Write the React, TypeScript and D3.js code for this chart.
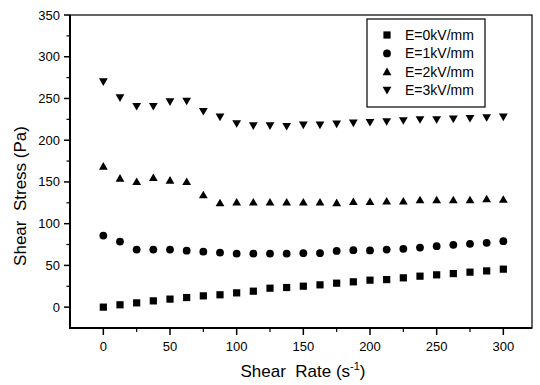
import React from "react";
import * as d3 from "d3";

const shearRate = [0, 12.5, 25, 37.5, 50, 62.5, 75, 87.5, 100, 112.5, 125, 137.5, 150, 162.5, 175, 187.5, 200, 212.5, 225, 237.5, 250, 262.5, 275, 287.5, 300];
const e0 = [0, 2.8, 5.1, 7.5, 9.6, 11.5, 13.5, 14.8, 17.1, 19.1, 22.7, 23.5, 25.1, 26.7, 28.7, 30.3, 32.3, 33, 35.1, 37.1, 38.7, 40.2, 41.9, 43.4, 45.5];
const e1 = [85.7, 78.5, 68.9, 68.9, 68.9, 67.7, 66.5, 65.3, 64.1, 64.1, 64.1, 64.1, 64.6, 64.6, 67.4, 68.2, 68, 68.9, 69.8, 71.3, 73, 74.6, 75.8, 77, 79];
const e2 = [168.8, 154.4, 150.3, 155.1, 152, 150.3, 134.4, 124.8, 125.7, 125.7, 125.7, 125.7, 125.7, 125.7, 125, 126.3, 126.3, 127, 127, 128.4, 128.4, 128.4, 128.4, 129.7, 129];
const e3 = [270, 250.9, 240.6, 240.6, 246.1, 246.9, 234.6, 227.8, 219.8, 217.4, 217.4, 216.6, 218.2, 218.2, 219.4, 220.6, 221.4, 222.2, 223.4, 224.6, 224.6, 225.4, 226.2, 227, 227.8];
const seriesNames = ["E=0kV/mm", "E=1kV/mm", "E=2kV/mm", "E=3kV/mm"];
const markerKinds = ["square", "circle", "triangle", "invtriangle"];
const xMajorTicks = [0, 50, 100, 150, 200, 250, 300];
const yMajorTicks = [0, 50, 100, 150, 200, 250, 300, 350];

const FONT = "'Liberation Sans', Arial, sans-serif";

function Marker({ kind, x, y }: { kind: string; x: number; y: number }) {
  if (kind === "square") return <rect x={x - 3.6} y={y - 3.6} width={7.2} height={7.2} fill="#000" />;
  if (kind === "circle") return <circle cx={x} cy={y} r={3.9} fill="#000" />;
  if (kind === "triangle")
    return <path d={`M${x},${y - 4.2}L${x + 4.4},${y + 3.4}L${x - 4.4},${y + 3.4}Z`} fill="#000" />;
  return <path d={`M${x},${y + 4.2}L${x + 4.4},${y - 3.4}L${x - 4.4},${y - 3.4}Z`} fill="#000" />;
}

export default function App() {
  const W = 540, H = 385;
  const left = 70, right = 532, top = 15, bottom = 328;
  const x = d3.scaleLinear().domain([-25, 321.5]).range([left, right]);
  const y = d3.scaleLinear().domain([-25, 350]).range([bottom, top]);
  const series = [e0, e1, e2, e3];
  const xMinor = d3.range(-25, 321, 25).filter((v) => !xMajorTicks.includes(v) && v > -25);
  const yMinor = d3.range(-25, 350, 25).filter((v) => !yMajorTicks.includes(v) && v > -25);

  return (
    <svg width={W} height={H} style={{ position: "absolute", left: 0, top: 0, background: "#fff" }} fontFamily={FONT}>
      <rect x={0} y={0} width={W} height={H} fill="#fff" />
      {/* frame */}
      <rect x={left} y={top} width={right - left} height={bottom - top} fill="none" stroke="#000" strokeWidth={1.2} />
      <line x1={left} y1={top} x2={left} y2={bottom + 1} stroke="#000" strokeWidth={2} />
      <line x1={left - 1} y1={bottom} x2={right} y2={bottom} stroke="#000" strokeWidth={2} />
      {/* x ticks */}
      {xMajorTicks.map((t) => (
        <g key={"xt" + t}>
          <line x1={x(t)} x2={x(t)} y1={bottom} y2={bottom + 7} stroke="#000" strokeWidth={1.5} />
          <text x={x(t)} y={bottom + 23} textAnchor="middle" fontSize={13}>{t}</text>
        </g>
      ))}
      {xMinor.map((t) => (
        <line key={"xm" + t} x1={x(t)} x2={x(t)} y1={bottom} y2={bottom + 4} stroke="#000" strokeWidth={1.2} />
      ))}
      {/* y ticks */}
      {yMajorTicks.map((t) => (
        <g key={"yt" + t}>
          <line x1={left} x2={left - 6} y1={y(t)} y2={y(t)} stroke="#000" strokeWidth={1.5} />
          <text x={left - 10} y={y(t) + 4.5} textAnchor="end" fontSize={13}>{t}</text>
        </g>
      ))}
      {yMinor.map((t) => (
        <line key={"ym" + t} x1={left} x2={left - 3.5} y1={y(t)} y2={y(t)} stroke="#000" strokeWidth={1.2} />
      ))}
      {/* axis titles */}
      <text x={303} y={377} textAnchor="middle" fontSize={17} style={{ whiteSpace: "pre" }}>
        <tspan>{"Shear  Rate (s"}</tspan>
        <tspan fontSize={11} dy={-7}>-1</tspan>
        <tspan dy={7}>)</tspan>
      </text>
      <text
        transform={`translate(26,${196}) rotate(-90)`}
        textAnchor="middle"
        fontSize={17}
        style={{ whiteSpace: "pre" }}
      >
        {"Shear  Stress (Pa)"}
      </text>
      {/* data */}
      {series.map((s, si) =>
        s.map((v, i) => <Marker key={si + "-" + i} kind={markerKinds[si]} x={x(shearRate[i])} y={y(v)} />)
      )}
      {/* legend */}
      <rect x={367} y={19} width={118} height={88} fill="#fff" stroke="#000" strokeWidth={1.2} />
      {seriesNames.map((n, i) => (
        <g key={n}>
          <Marker kind={markerKinds[i]} x={387} y={35 + i * 18.4} />
          <text x={405} y={35 + i * 18.4 + 5} fontSize={14}>{n}</text>
        </g>
      ))}
    </svg>
  );
}
